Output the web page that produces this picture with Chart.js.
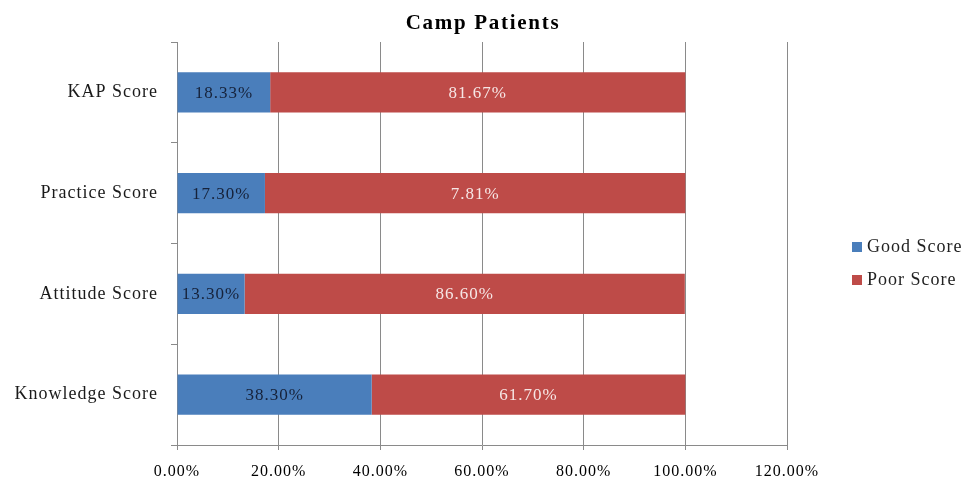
<!DOCTYPE html>
<html>
<head>
<meta charset="utf-8">
<script src="https://cdn.jsdelivr.net/npm/chart.js@4.4.1/dist/chart.umd.min.js"></script>
<style>
  html, body { margin: 0; padding: 0; background: #fff; }
  #wrap { width: 967px; height: 478px; position: relative; }
</style>
</head>
<body>
<div id="wrap"><canvas id="myChart"></canvas></div>
<script>
"use strict";
// data
const chartTitle = "Camp Patients";
const categories = ["KAP Score", "Practice Score", "Attitude Score", "Knowledge Score"];
const goodScore = [18.33, 17.30, 13.30, 38.30];
const poorScore = [81.67, 82.70, 86.60, 61.70];
// the printed labels (the practice one says 7.81% in the original)
const goodLabels = ["18.33%", "17.30%", "13.30%", "38.30%"];
const poorLabels = ["81.67%", "7.81%", "86.60%", "61.70%"];
const xTicks = [0, 20, 40, 60, 80, 100, 120];

const serif = "'Liberation Serif', 'Times New Roman', serif";
const gridGrey = "#8a8a8a";

// small plugin : spacing of letters, title, values in the bars, legend on the right
const decor = {
  id: "decor",
  beforeInit(chart) { chart.ctx.letterSpacing = "1px"; },
  beforeDraw(chart) {
    const ctx = chart.ctx;
    ctx.save();
    ctx.letterSpacing = "1.7px";
    ctx.font = "bold 21px " + serif;
    ctx.fillStyle = "#000";
    ctx.textAlign = "center";
    ctx.textBaseline = "alphabetic";
    ctx.fillText(chartTitle, 483, 29);
    ctx.restore();
    ctx.letterSpacing = "1px";
  },
  afterDatasetsDraw(chart) {
    const ctx = chart.ctx;
    ctx.save();
    ctx.font = "17px " + serif;
    ctx.textAlign = "center";
    ctx.textBaseline = "middle";
    const texts = [goodLabels, poorLabels];
    const colors = ["#16223a", "#f6e6e5"];
    chart.data.datasets.forEach((ds, i) => {
      chart.getDatasetMeta(i).data.forEach((bar, j) => {
        ctx.fillStyle = colors[i];
        ctx.fillText(texts[i][j], (bar.x + bar.base) / 2, bar.y + 1);
      });
    });
    // legend
    ctx.font = "18px " + serif;
    ctx.textAlign = "left";
    const ys = [247, 280];
    chart.data.datasets.forEach((ds, i) => {
      ctx.fillStyle = ds.backgroundColor;
      ctx.fillRect(852, ys[i] - 5, 10, 10);
      ctx.fillStyle = "#222";
      ctx.fillText(ds.label, 867, ys[i]);
    });
    ctx.restore();
  }
};

let ctx = document.getElementById("myChart").getContext("2d");
const config = {
  type: "bar",
  data: {
    labels: categories,
    datasets: [
      { label: "Good Score", data: goodScore, backgroundColor: "#4a7ebb" },
      { label: "Poor Score", data: poorScore, backgroundColor: "#be4b48" }
    ]
  },
  options: {
    indexAxis: "y",
    responsive: true,
    maintainAspectRatio: false,
    animation: false,
    categoryPercentage: 0.8,
    barPercentage: 0.5,
    layout: { padding: { left: 0, right: 180, top: 42, bottom: 0 } },
    plugins: {
      legend: { display: false },
      tooltip: { enabled: false },
      title: { display: false }
    },
    scales: {
      x: {
        stacked: true,
        min: 0,
        max: 120,
        afterBuildTicks: (scale) => { scale.ticks = xTicks.map(v => ({ value: v })); },
        afterFit: (scale) => { scale.height = 33; },
        ticks: {
          color: "#000",
          padding: 12,
          font: { family: serif, size: 16 },
          callback: (v) => v.toFixed(2) + "%"
        },
        grid: { color: gridGrey, lineWidth: 1, tickLength: 5 },
        border: { color: gridGrey, width: 1 }
      },
      y: {
        stacked: true,
        afterFit: (scale) => { scale.width = 177; },
        ticks: {
          color: "#1a1a1a",
          padding: 13,
          font: { family: serif, size: 18 }
        },
        grid: { drawOnChartArea: false, color: gridGrey, tickLength: 6, offset: true },
        border: { color: gridGrey, width: 1 }
      }
    }
  },
  plugins: [decor]
};
let myChart = new Chart(ctx, config);
</script>
</body>
</html>
